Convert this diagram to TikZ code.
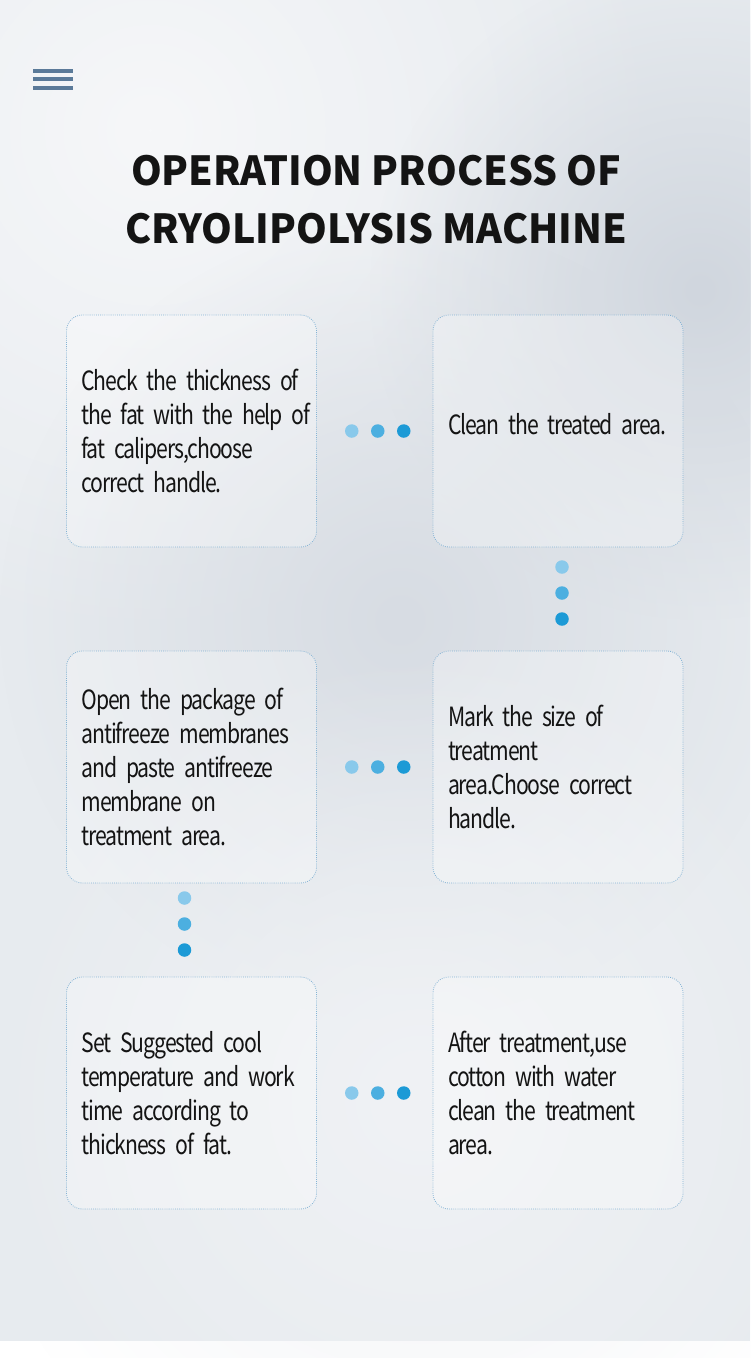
\documentclass[tikz,border=0pt]{standalone}
\usepackage{fontspec}
\setmainfont{Noto Sans CJK SC}[FakeStretch=0.8,LetterSpace=-4]
\newfontfamily\titlefont{Noto Sans CJK SC}[FakeStretch=0.98]
\usetikzlibrary{positioning,calc,fadings}
\hyphenpenalty=10000
\exhyphenpenalty=10000
\newcommand\stepfont{\fontsize{26.5}{34}\selectfont\fontdimen2\font=2.5pt\spaceskip=2.5pt plus 2pt\relax}

\definecolor{bgbase}{RGB}{231,235,239}
\definecolor{bglight}{RGB}{246,247,249}
\definecolor{bgdark}{RGB}{208,214,222}
\definecolor{boxline}{RGB}{130,178,212}
\definecolor{menubar}{RGB}{91,122,153}
\definecolor{beadA}{RGB}{137,201,235}
\definecolor{beadB}{RGB}{76,175,224}
\definecolor{beadC}{RGB}{28,154,214}
\definecolor{inktext}{RGB}{20,20,20}
\tikzfading[name=softspot,inner color=transparent!0,outer color=transparent!100]

\begin{document}
\begin{tikzpicture}[x=1pt,y=-1pt,node distance=366.5pt,on grid,
   stepbox/.style={draw=boxline,line width=0.8pt,dash pattern=on 0.8pt off 1.3pt,
     fill=white,fill opacity=.3,text opacity=1,rounded corners=16pt,
     minimum width=250pt,minimum height=232pt,text width=220pt,inner sep=15pt,
     align=left,text=inktext,font=\stepfont},
   bead/.style={circle,inner sep=0pt,minimum size=13.5pt}]
   % background
   \useasboundingbox (0,0) rectangle (750,1358);
   \fill[white] (0,0) rectangle (750,1358);
   \fill[bgbase] (0,0) rectangle (750,1341);
   \fill[bglight,path fading=softspot] (150,130) circle (520);
   \fill[bgdark,path fading=softspot] (700,290) circle (330);
   \fill[bgdark!70!bgbase,path fading=softspot] (400,620) circle (400);
   \fill[bglight!60!bgbase,path fading=softspot] (420,1100) circle (450);
   % menu icon
   \foreach \y in {70.5,79,88}
      \fill[menubar] (33,\y-2) rectangle (73,\y+2);
   % title
   \node[font=\titlefont\bfseries\fontsize{40}{58}\selectfont,text=inktext,align=center] (title) at (376,200)
      {OPERATION PROCESS OF\\CRYOLIPOLYSIS MACHINE};
   % steps
   \node[stepbox] (check) at (191.5,431) {\mbox{Check the thickness of}\\\mbox{the fat with the help of}\\fat calipers,choose\\correct handle.};
   \node[stepbox] (clean) [right=of check] {\mbox{Clean the treated area.}\\[-20pt]\mbox{}};
   \node[stepbox] (mark) [below=336pt of clean] {Mark the size of\\treatment\\area.Choose correct\\handle.};
   \node[stepbox] (open) [left=of mark] {\mbox{Open the package of}\\\mbox{antifreeze membranes}\\\mbox{and paste antifreeze}\\membrane on\\treatment area.};
   \node[stepbox] (set) [below=326pt of open] {Set Suggested cool\\\mbox{temperature and work}\\time according to\\thickness of fat.};
   \node[stepbox] (after) [right=of set] {After treatment,use\\cotton with water\\\mbox{clean the treatment}\\area.};
   % connecting dots
   \foreach \a/\b in {check/clean,open/mark,set/after}
      \foreach \d/\c in {-26/beadA,0/beadB,26/beadC}
         \node[bead,fill=\c] at ($(\a.east)!.5!(\b.west)+(\d+3,0)$) {};
   \foreach \a/\b/\s in {clean/mark/4,open/set/-7}
      \foreach \d/\c in {-26/beadA,0/beadB,26/beadC}
         \node[bead,fill=\c] at ($(\a.south)!.5!(\b.north)+(\s,\d-6)$) {};
\end{tikzpicture}
\end{document}
